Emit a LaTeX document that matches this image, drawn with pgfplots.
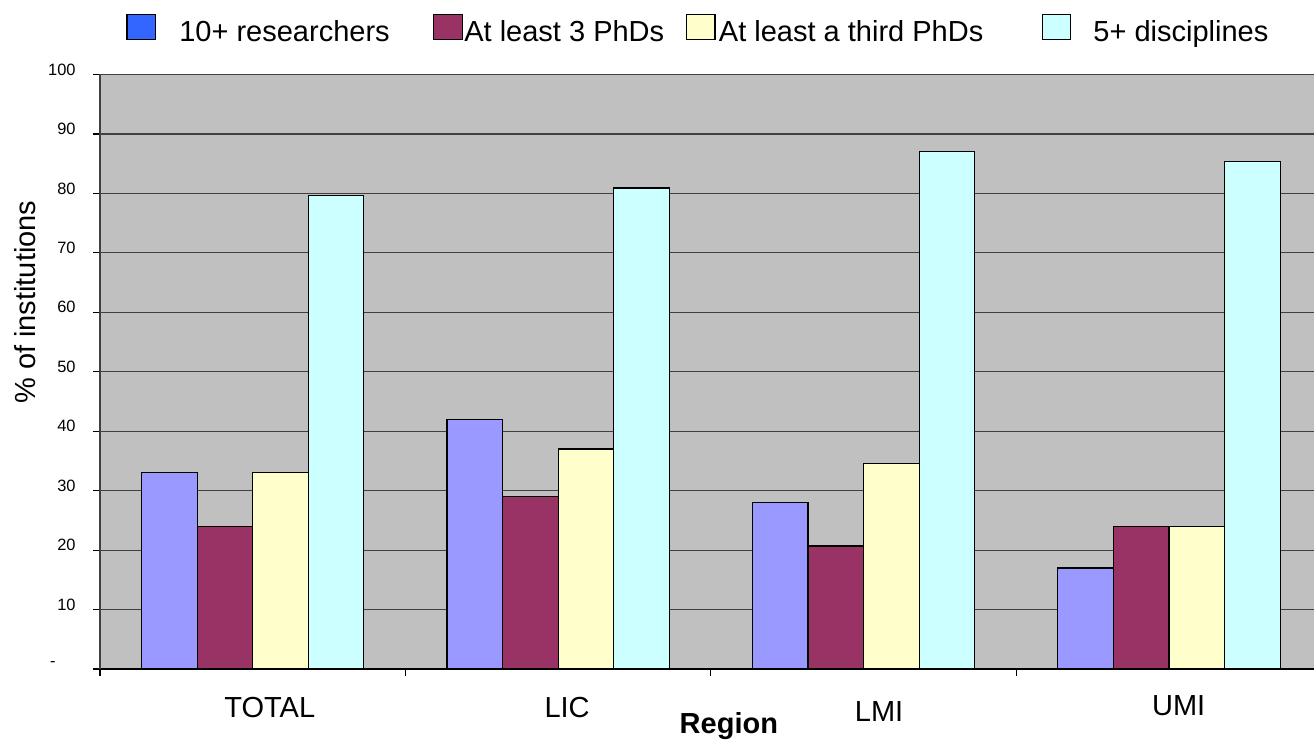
\documentclass[border=0pt]{standalone}
\usepackage{fontspec}
\setmainfont{Liberation Sans}
\usepackage{pgfplots}
\pgfplotsset{compat=1.18}
\definecolor{barLav}{HTML}{9999FF}
\definecolor{barMar}{HTML}{993366}
\definecolor{barYel}{HTML}{FFFFCC}
\definecolor{barCya}{HTML}{CCFFFF}
\definecolor{legBlue}{HTML}{3366FF}
\definecolor{bgGray}{HTML}{C0C0C0}
\newcommand{\legbox}[1]{\draw[fill=#1, draw=black, line width=0.6pt] (0pt,-3.65pt) rectangle (14.25pt,8.85pt);}
\begin{document}
\begin{tikzpicture}
\begin{axis}[
  scale only axis, width=607pt, height=297.25pt,
  xmin=-0.5, xmax=3.475, ymin=0, ymax=100,
  axis x line*=bottom, axis y line*=left,
  axis background/.style={fill=bgGray},
  x axis line style={black, line width=0.8pt},
  y axis line style={black!75, line width=0.8pt},
  ybar=0pt, bar width=0.182,
  ytick={0,10,20,30,40,50,60,70,80,90,100},
  yticklabels={-\hspace*{10pt},10,20,30,40,50,60,70,80,90,100},
  yticklabel style={font=\fontsize{8.2}{9}\selectfont, anchor=east, inner sep=0pt, xshift=-8.5pt, yshift=2.5pt},
  xtick={0,1,2,3},
  xticklabels={\hspace*{17.1pt}TOTAL,\hspace*{9pt}LIC,\hspace*{15.6pt}\raisebox{-2pt}{LMI},\hspace*{9.8pt}\raisebox{1pt}{UMI}},
  xticklabel style={font=\fontsize{14.5}{17}\selectfont, anchor=base, inner sep=0pt, yshift=-20.5pt},
  major x tick style={draw=none},
  minor xtick={-0.5,0.5,1.5,2.5},
  tick align=outside, major tick length=3.5pt, minor tick length=3.5pt,
  tick style={black, line width=0.6pt},
  ymajorgrids, grid style={black!75, line width=0.6pt},
  xlabel={\bfseries Region},
  xlabel style={font=\fontsize{14.5}{17}\selectfont, at={(axis description cs:0.518,-0.1093)}, anchor=base, inner sep=0pt},
  ylabel={\% of institutions},
  ylabel style={font=\fontsize{14.5}{17}\selectfont, at={(axis description cs:-0.0618,0.617)}, anchor=center, inner sep=0pt},
  legend columns=4,
  legend style={draw=none, fill=none, inner sep=0pt, column sep=0pt,
    nodes={inner sep=0pt, font=\fontsize{14.5}{17}\selectfont},
    at={(axis description cs:0.0214,1.1027)}, anchor=north west},
]
\addplot[fill=barLav, draw=black, line width=0.6pt, legend image code/.code={\legbox{legBlue}}]
  coordinates {(0,33) (1,42) (2,28) (3,17)};
\addlegendentry{\hspace*{11.65pt}10+ researchers\hspace*{21.65pt}}
\addplot[fill=barMar, draw=black, line width=0.6pt, legend image code/.code={\legbox{barMar}}]
  coordinates {(0,24) (1,29) (2,20.7) (3,24)};
\addlegendentry{\hspace*{0.8pt}At least 3 PhDs\hspace*{10.85pt}}
\addplot[fill=barYel, draw=black, line width=0.6pt, legend image code/.code={\legbox{barYel}}]
  coordinates {(0,33) (1,37) (2,34.5) (3,24)};
\addlegendentry{\hspace*{1.7pt}At least a third PhDs\hspace*{29.2pt}}
\addplot[fill=barCya, draw=black, line width=0.6pt, legend image code/.code={\legbox{barCya}}]
  coordinates {(0,79.6) (1,80.9) (2,87.1) (3,85.4)};
\addlegendentry{\hspace*{11pt}5+ disciplines}
\end{axis}
\pgfresetboundingbox
\path[use as bounding box] (-50pt,-35.5pt) rectangle (607pt,334.5pt);
\end{tikzpicture}
\end{document}
